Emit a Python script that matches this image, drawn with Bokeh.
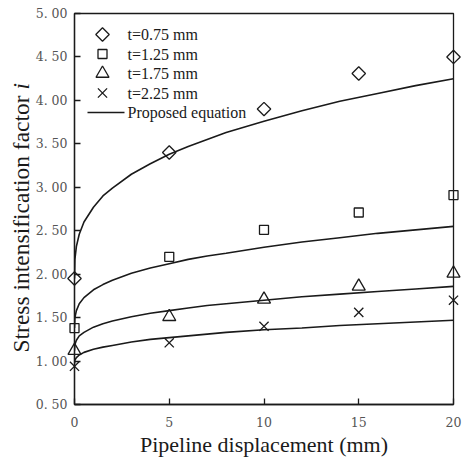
import math
from bokeh.plotting import figure
from bokeh.models import FixedTicker
from bokeh.core.properties import value
from bokeh.embed import file_html
from bokeh.resources import INLINE

# measured points
disp = [0, 5, 10, 15, 20]
i_075 = [1.95, 3.40, 3.90, 4.31, 4.50]
i_125 = [1.38, 2.20, 2.51, 2.71, 2.91]
i_175 = [1.12, 1.51, 1.71, 1.86, 2.01]
i_225 = [0.94, 1.21, 1.40, 1.56, 1.70]

# proposed-equation curves
curve_x = [0, 0.02, 0.1, 0.25, 0.5, 1, 1.5, 2, 3, 4, 5, 6, 7, 8, 10, 12, 14, 16, 18, 20]
eq_075 = [1.95, 2.17, 2.32, 2.46, 2.60, 2.77, 2.90, 2.99, 3.15, 3.27, 3.38, 3.47, 3.55, 3.63, 3.76, 3.88, 3.99, 4.08, 4.17, 4.25]
eq_125 = [1.38, 1.50, 1.58, 1.66, 1.73, 1.82, 1.88, 1.93, 2.01, 2.07, 2.12, 2.17, 2.21, 2.24, 2.31, 2.37, 2.42, 2.47, 2.51, 2.55]
eq_175 = [1.12, 1.19, 1.24, 1.29, 1.33, 1.39, 1.43, 1.46, 1.51, 1.55, 1.58, 1.61, 1.64, 1.66, 1.70, 1.74, 1.77, 1.80, 1.83, 1.86]
eq_225 = [0.97, 1.01, 1.04, 1.07, 1.10, 1.135, 1.16, 1.18, 1.22, 1.25, 1.27, 1.29, 1.31, 1.33, 1.36, 1.38, 1.41, 1.43, 1.45, 1.47]

series_labels = ["t=0.75 mm", "t=1.25 mm", "t=1.75 mm", "t=2.25 mm"]
curve_label = "Proposed equation"

x_ticks = [0, 5, 10, 15, 20]
y_ticks = [0.5, 1.0, 1.5, 2.0, 2.5, 3.0, 3.5, 4.0, 4.5, 5.0]
y_tick_labels = ["0. 50", "1. 00", "1. 50", "2. 00", "2. 50", "3. 00", "3. 50", "4. 00", "4. 50", "5. 00"]

x_title = "Pipeline displacement (mm)"
y_title_main = "Stress intensification factor "
y_title_var = "i"

SERIF = "Liberation Serif"
TICKFONT = "DejaVu Serif"
INK = "#1a1a1a"

X0, X1 = 0, 20
Y0, Y1 = 0.5, 5.0
FW, FH = 379, 391

p = figure(width=463, height=462, output_backend="svg", toolbar_location=None,
           x_range=(X0, X1), y_range=(Y0, Y1),
           min_border_left=74, min_border_right=10, min_border_top=13, min_border_bottom=58)
p.grid.visible = False
p.outline_line_color = INK
p.outline_line_width = 1.3
p.background_fill_color = "white"
p.border_fill_color = "white"

for ax in (p.xaxis[0], p.yaxis[0]):
    ax.axis_line_color = INK
    ax.axis_line_width = 1.3
    ax.major_tick_line_color = INK
    ax.major_tick_line_width = 1.3
    ax.major_tick_in = 6
    ax.major_tick_out = 0
    ax.minor_tick_line_color = None
    ax.major_label_text_font = TICKFONT
    ax.major_label_text_font_size = "12.5px"
    ax.major_label_text_color = "#555555"
    ax.axis_label_text_font = SERIF
    ax.axis_label_text_font_style = "normal"
    ax.axis_label_text_color = INK

p.xaxis.axis_label_text_font_size = "22px"
p.xaxis.ticker = FixedTicker(ticks=x_ticks)
p.yaxis.ticker = FixedTicker(ticks=y_ticks)
p.yaxis.major_label_overrides = {t: l for t, l in zip(y_ticks, y_tick_labels)}
p.xaxis.axis_label = x_title
p.xaxis.major_label_standoff = 12
p.yaxis.major_label_standoff = 7
p.xaxis.axis_label_standoff = 2

for ys in (eq_075, eq_125, eq_175, eq_225):
    p.line(curve_x, ys, line_color=INK, line_width=1.6)

marker_styles = [dict(marker="square", size=9.5, angle=math.pi / 4),
                 dict(marker="square", size=9),
                 dict(marker="triangle", size=13),
                 dict(marker="x", size=13)]
mk = dict(fill_color=None, line_color=INK, line_width=1.3, level="overlay")
for ys, st in zip((i_075, i_125, i_175, i_225), marker_styles):
    p.scatter(disp, ys, **st, **mk)

# frame-pixel -> data helpers for decorations (legend, y title)
def fx(px):
    return X0 + px * (X1 - X0) / FW

def fy(px):
    return Y1 - px * (Y1 - Y0) / FH

# hand-built legend
row_px = [21, 40.5, 60, 79.5, 99]
for k, st in enumerate(marker_styles):
    p.scatter([fx(28)], [fy(row_px[k])], **st, **mk)
p.line([fx(13), fx(50)], [fy(row_px[4]), fy(row_px[4])], line_color=INK, line_width=1.6)
p.text([fx(53)] * 5, [fy(r) for r in row_px], text=series_labels + [curve_label],
       text_font=value(SERIF), text_font_size="16px", text_color=INK,
       text_baseline="middle", text_align="left")

# y-axis title with italic variable
YT_SIZE = 23.5
main_w = 11.193 * YT_SIZE
p.text([fx(-54)], [fy(339)], text=[y_title_main], angle=math.pi / 2,
       text_font=value(SERIF), text_font_size=f"{YT_SIZE}px", text_color=INK,
       text_baseline="alphabetic", text_align="left", level="overlay")
p.text([fx(-54)], [fy(339 - main_w)], text=[y_title_var], angle=math.pi / 2,
       text_font=value(SERIF), text_font_size=f"{YT_SIZE}px", text_font_style="italic",
       text_color=INK, text_baseline="alphabetic", text_align="left", level="overlay")

open("out.html", "w").write(file_html(p, INLINE))
